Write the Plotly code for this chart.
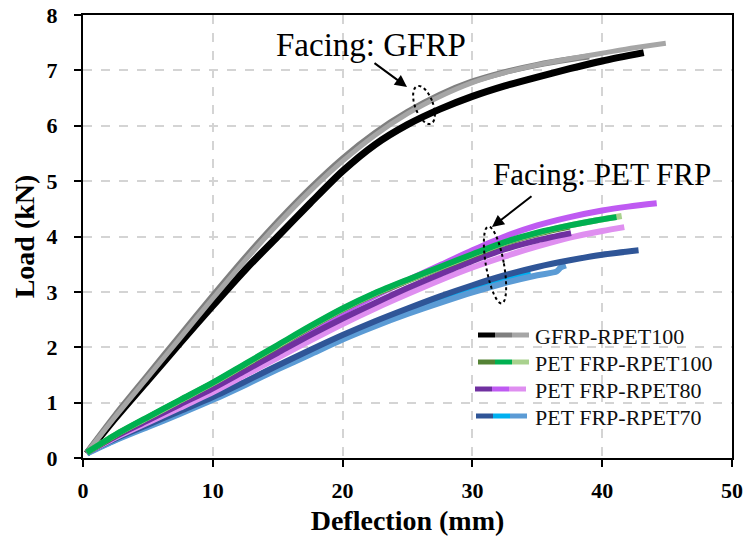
import plotly.graph_objects as go
import numpy as np

# ---------------- data ----------------
gfrp1_x = [0.3, 2.5, 5, 7.5, 10, 12.5, 15, 17.5, 20, 22.5, 25, 27.5, 30, 32.5, 35, 37.5, 40, 43.2]
gfrp1_y = [0.08, 0.72, 1.40, 2.08, 2.75, 3.40, 4.0, 4.6, 5.18, 5.66, 6.02, 6.30, 6.53, 6.72, 6.88, 7.03, 7.17, 7.32]
gfrp2_x = [0.3, 2.5, 5, 7.5, 10, 12.5, 15, 17.5, 20, 22.5, 25, 27.5, 30, 32.5, 35, 37.5, 39]
gfrp2_y = [0.1, 0.78, 1.5, 2.22, 2.93, 3.62, 4.27, 4.87, 5.41, 5.87, 6.25, 6.56, 6.8, 6.97, 7.1, 7.2, 7.25]
gfrp3_x = [0.3, 2.5, 5, 7.5, 10, 12.5, 15, 17.5, 20, 22.5, 25, 27.5, 30, 32.5, 35, 37.5, 40, 42.5, 44.9]
gfrp3_y = [0.1, 0.75, 1.46, 2.17, 2.88, 3.57, 4.22, 4.82, 5.36, 5.83, 6.22, 6.53, 6.78, 6.96, 7.1, 7.21, 7.31, 7.41, 7.49]

pet100_1_x = [0.3, 2.5, 5, 7.5, 10, 12.5, 15, 17.5, 20, 22.5, 25, 27.5, 30, 32.5, 35, 37.5]
pet100_1_y = [0.1, 0.41, 0.73, 1.04, 1.35, 1.68, 2.02, 2.36, 2.68, 2.96, 3.2, 3.43, 3.66, 3.88, 4.05, 4.18]
pet100_2_x = [0.3, 2.5, 5, 7.5, 10, 12.5, 15, 17.5, 20, 22.5, 25, 27.5, 30, 32.5, 35, 37.5, 39.5, 41.1]
pet100_2_y = [0.1, 0.42, 0.74, 1.05, 1.36, 1.7, 2.04, 2.38, 2.7, 2.98, 3.22, 3.45, 3.68, 3.9, 4.07, 4.2, 4.29, 4.35]
pet100_3_x = [0.3, 2.5, 5, 7.5, 10, 12.5, 15, 17.5, 20, 22.5, 25, 27.5, 30, 32.5, 35, 37.5, 39.5, 41.5]
pet100_3_y = [0.1, 0.42, 0.73, 1.04, 1.35, 1.69, 2.03, 2.37, 2.69, 2.97, 3.21, 3.44, 3.67, 3.89, 4.06, 4.2, 4.29, 4.37]

pet80_1_x = [0.3, 2.5, 5, 7.5, 10, 12.5, 15, 17.5, 20, 22.5, 25, 27.5, 30, 32.5, 35, 37.6]
pet80_1_y = [0.1, 0.39, 0.68, 0.97, 1.26, 1.58, 1.9, 2.22, 2.52, 2.8, 3.07, 3.32, 3.56, 3.77, 3.93, 4.06]
pet80_2_x = [0.3, 2.5, 5, 7.5, 10, 12.5, 15, 17.5, 20, 22.5, 25, 27.5, 30, 32.5, 35, 37.5, 40, 42, 44.2]
pet80_2_y = [0.1, 0.4, 0.71, 1.02, 1.33, 1.65, 1.98, 2.31, 2.63, 2.93, 3.21, 3.48, 3.75, 4.0, 4.2, 4.35, 4.47, 4.54, 4.6]
pet80_3_x = [0.3, 2.5, 5, 7.5, 10, 12.5, 15, 17.5, 20, 22.5, 25, 27.5, 30, 32.5, 35, 37.5, 40, 41.7]
pet80_3_y = [0.1, 0.37, 0.64, 0.91, 1.19, 1.5, 1.81, 2.12, 2.42, 2.7, 2.96, 3.21, 3.44, 3.64, 3.82, 3.98, 4.1, 4.17]

pet70_1_x = [0.3, 2.5, 5, 7.5, 10, 12.5, 15, 17.5, 20, 22.5, 25, 27.5, 30, 32.5, 35, 37.5, 40, 42.8]
pet70_1_y = [0.1, 0.35, 0.6, 0.85, 1.1, 1.38, 1.67, 1.95, 2.22, 2.47, 2.7, 2.92, 3.12, 3.3, 3.45, 3.57, 3.67, 3.75]
pet70_2_x = [0.3, 2.5, 5, 7.5, 10, 12.5, 15, 17.5, 20, 22.5, 25, 27.5, 30, 32.5, 34.5]
pet70_2_y = [0.09, 0.33, 0.58, 0.83, 1.07, 1.35, 1.63, 1.91, 2.18, 2.42, 2.65, 2.86, 3.05, 3.22, 3.33]
pet70_3_x = [0.3, 2.5, 5, 7.5, 10, 12.5, 15, 17.5, 20, 22.5, 25, 27.5, 30, 32.5, 35, 36.5, 36.8, 37.2]
pet70_3_y = [0.08, 0.32, 0.56, 0.8, 1.05, 1.32, 1.6, 1.87, 2.14, 2.38, 2.6, 2.8, 2.99, 3.16, 3.3, 3.37, 3.44, 3.48]

legend_labels = ["GFRP-RPET100", "PET FRP-RPET100", "PET FRP-RPET80", "PET FRP-RPET70"]
legend_colors = [
    ["#000000", "#7f7f7f", "#a6a6a6"],
    ["#548235", "#00b050", "#a9d18e"],
    ["#7030a0", "#bf5af2", "#df8ff0"],
    ["#2f5597", "#00b0f0", "#5b9bd5"],
]

x_ticks = [0, 10, 20, 30, 40, 50]
y_ticks = [0, 1, 2, 3, 4, 5, 6, 7, 8]

# ---------------- figure ----------------
W, H = 749, 548
L, R, T, B = 83, 17, 15, 90
PW, PH = W - L - R, H - T - B

def px(x):
    return (x - L) / PW

def py(y):
    return (H - B - y) / PH

fig = go.Figure()

def add(xs, ys, color, width=6):
    fig.add_trace(go.Scatter(x=xs, y=ys, mode="lines",
                             line=dict(color=color, width=width, shape="spline", smoothing=0.8),
                             showlegend=False, hoverinfo="skip"))

# GFRP group
add(gfrp1_x, gfrp1_y, legend_colors[0][0], 7)
add(gfrp2_x, gfrp2_y, legend_colors[0][1], 6)
add(gfrp3_x, gfrp3_y, legend_colors[0][2], 5)
# PET70 group
add(pet70_2_x, pet70_2_y, legend_colors[3][1], 6)
add(pet70_3_x, pet70_3_y, legend_colors[3][2], 6)
add(pet70_1_x, pet70_1_y, legend_colors[3][0], 6)
# PET80 group
add(pet80_3_x, pet80_3_y, legend_colors[2][2], 6)
add(pet80_2_x, pet80_2_y, legend_colors[2][1], 6)
add(pet80_1_x, pet80_1_y, legend_colors[2][0], 6)
# PET100 group
add(pet100_1_x, pet100_1_y, legend_colors[1][0], 6)
add(pet100_3_x, pet100_3_y, legend_colors[1][2], 6)
add(pet100_2_x, pet100_2_y, legend_colors[1][1], 6)

shapes = []
annotations = []

# dotted ellipses (pixel geometry -> paper coords)
def ellipse_path(cx, cy, a, b, tilt_deg, n=60):
    t = np.linspace(0, 2 * np.pi, n)
    th = np.deg2rad(tilt_deg)
    ex = a * np.cos(t)
    ey = b * np.sin(t)
    xs = cx + ex * np.cos(th) - ey * np.sin(th)
    ys = cy + ex * np.sin(th) + ey * np.cos(th)
    pts = [f"{px(xx):.5f},{py(yy):.5f}" for xx, yy in zip(xs, ys)]
    return "M " + " L ".join(pts) + " Z"

shapes.append(dict(type="path", xref="paper", yref="paper",
                   path=ellipse_path(424, 105, 9, 20, -20),
                   line=dict(color="black", width=2, dash="dot")))
shapes.append(dict(type="path", xref="paper", yref="paper",
                   path=ellipse_path(495, 265, 9, 39, -10),
                   line=dict(color="black", width=2, dash="dot")))

# arrows
annotations.append(dict(x=px(407), y=py(87), xref="paper", yref="paper",
                        ax=373 - 407, ay=62 - 87,
                        text="", showarrow=True, arrowhead=2, arrowsize=1.2,
                        arrowwidth=2, arrowcolor="black"))
annotations.append(dict(x=px(492), y=py(227), xref="paper", yref="paper",
                        ax=533 - 492, ay=195 - 227,
                        text="", showarrow=True, arrowhead=2, arrowsize=1.2,
                        arrowwidth=2, arrowcolor="black"))

serif = "Liberation Serif, Times New Roman, serif"
annotations.append(dict(x=px(371), y=py(45), xref="paper", yref="paper",
                        text="Facing: GFRP", showarrow=False,
                        font=dict(family=serif, size=33, color="black"),
                        xanchor="center", yanchor="middle"))
annotations.append(dict(x=px(602), y=py(175), xref="paper", yref="paper",
                        text="Facing: PET FRP", showarrow=False,
                        font=dict(family=serif, size=31, color="black"),
                        xanchor="center", yanchor="middle"))

# custom legend with three-colour swatches
rows = [335, 362, 389, 416]
starts = [478, 478, 475, 476]
for lab, cols, ry, sx in zip(legend_labels, legend_colors, rows, starts):
    for k, c in enumerate(cols):
        shapes.append(dict(type="line", xref="paper", yref="paper",
                           x0=px(sx + 17 * k), x1=px(sx + 17 * (k + 1)),
                           y0=py(ry), y1=py(ry),
                           line=dict(color=c, width=5)))
    annotations.append(dict(x=px(533), y=py(ry + 1), xref="paper", yref="paper",
                            text=lab, showarrow=False,
                            font=dict(family=serif, size=22, color="#111111"),
                            xanchor="left", yanchor="middle"))

fig.update_layout(
    width=W, height=H,
    margin=dict(l=L, r=R, t=T, b=B, autoexpand=False),
    paper_bgcolor="white", plot_bgcolor="white",
    shapes=shapes, annotations=annotations,
    showlegend=False,
    font=dict(family=serif, color="black"),
)

fig.update_xaxes(
    range=[0, 50], tickvals=x_ticks, ticktext=[str(v) for v in x_ticks],
    showgrid=True, gridcolor="#d4d4d4", griddash="dash", gridwidth=1.5,
    showline=True, linecolor="black", linewidth=2, mirror=True,
    ticks="outside", ticklen=7, tickwidth=2, tickcolor="black",
    ticklabelstandoff=5,
    tickfont=dict(family=serif, size=22, color="black", weight="bold"),
    title=dict(text="<b>Deflection (mm)</b>", font=dict(family=serif, size=28, color="black"),
               standoff=8),
    zeroline=False, automargin=False,
)
fig.update_yaxes(
    range=[0, 8], tickvals=y_ticks, ticktext=[str(v) for v in y_ticks],
    showgrid=True, gridcolor="#d4d4d4", griddash="dash", gridwidth=1.5,
    showline=True, linecolor="black", linewidth=2, mirror=True,
    ticks="outside", ticklen=7, tickwidth=2, tickcolor="black",
    ticklabelstandoff=12,
    tickfont=dict(family=serif, size=22, color="black", weight="bold"),
    title=dict(text="<b>Load (kN)</b>", font=dict(family=serif, size=28, color="black"),
               standoff=4),
    zeroline=False, automargin=False,
)

fig.write_html("out.html",
               config={"displayModeBar": False},
               post_script="document.body.style.margin='0';document.body.style.overflow='hidden';")
